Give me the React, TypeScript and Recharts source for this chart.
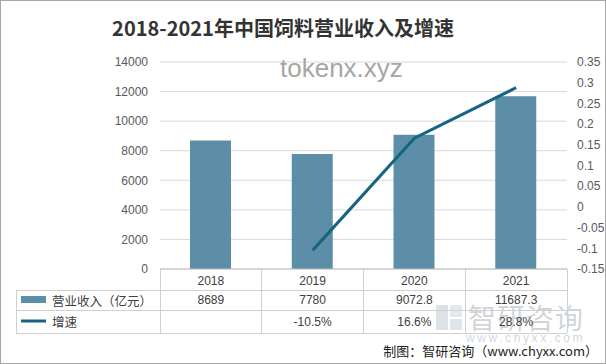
import React from 'react';
import { ComposedChart, Bar, Line, XAxis, YAxis, CartesianGrid } from 'recharts';

const categories = ['2018', '2019', '2020', '2021'];
const revenue = [8689, 7780, 9072.8, 11687.3];
const growth: (number | null)[] = [null, -0.105, 0.166, 0.288];
const leftTicks = [0, 2000, 4000, 6000, 8000, 10000, 12000, 14000];
const rightTicks = [-0.15, -0.1, -0.05, 0, 0.05, 0.1, 0.15, 0.2, 0.25, 0.3, 0.35];
const seriesNames = ['营业收入（亿元）', '增速'];

const data = categories.map((c, i) => ({ year: c, revenue: revenue[i], growth: growth[i] }));

const W = 606;
const H = 364;
const LEFT_W = 160;
const RIGHT_W = 39;
const TOP = 62;
const XAXIS_H = 95;
const BAND = (W - LEFT_W - RIGHT_W) / categories.length;
const TABLE_LEFT = 16;

const BAR_COLOR = '#5c8fa7';
const LINE_COLOR = '#176482';
const GRID = '#d9d9d9';
const TABLE_LINE = '#d0d0d0';
const TXT = '#404040';
const CJK = '"Noto Sans CJK SC", "Liberation Sans", sans-serif';
const NUM = '"Liberation Sans", "Noto Sans CJK SC", sans-serif';

const fmtGrowth = (v: number | null) => (v === null ? '' : (v * 100).toFixed(1) + '%');

const TableTick = (props: any) => {
  const { x, y, payload, index } = props;
  const half = BAND / 2;
  const r1 = y + 21;
  const r2 = y + 41;
  const r3 = y + 64;
  const line = (x1: number, y1: number, x2: number, y2: number, k: string) => (
    <line key={k} x1={x1} y1={y1} x2={x2} y2={y2} stroke={TABLE_LINE} strokeWidth={1} shapeRendering="crispEdges" />
  );
  return (
    <g>
      {line(x - half, y, x - half, r3, 'vl')}
      {index === categories.length - 1 && line(x + half, y, x + half, r3, 'vr')}
      {line(x - half, r1, x + half, r1, 'h1')}
      {line(x - half, r2, x + half, r2, 'h2')}
      {line(x - half, r3, x + half, r3, 'h3')}
      {index === 0 && (
        <g>
          {line(TABLE_LEFT, r1, x - half, r1, 'lh1')}
          {line(TABLE_LEFT, r2, x - half, r2, 'lh2')}
          {line(TABLE_LEFT, r3, x - half, r3, 'lh3')}
          {line(TABLE_LEFT, r1, TABLE_LEFT, r3, 'lv')}
          <rect x={TABLE_LEFT + 5} y={y + 27} width={25} height={7} fill={BAR_COLOR} />
          <line x1={TABLE_LEFT + 5} x2={TABLE_LEFT + 30} y1={y + 52} y2={y + 52} stroke={LINE_COLOR} strokeWidth={3} />
          <text x={TABLE_LEFT + 36} y={y + 31} dominantBaseline="central" fontSize={12.5} fill={TXT} fontFamily={CJK}>{seriesNames[0]}</text>
          <text x={TABLE_LEFT + 36} y={y + 52} dominantBaseline="central" fontSize={12.5} fill={TXT} fontFamily={CJK}>{seriesNames[1]}</text>
        </g>
      )}
      <text x={x} y={y + 12} textAnchor="middle" dominantBaseline="central" fontSize={12} fill={TXT} fontFamily={NUM}>{payload.value}</text>
      <text x={x} y={y + 31} textAnchor="middle" dominantBaseline="central" fontSize={12} fill={TXT} fontFamily={NUM}>{String(revenue[index])}</text>
      <text x={x} y={y + 53} textAnchor="middle" dominantBaseline="central" fontSize={12} fill={TXT} fontFamily={NUM}>{fmtGrowth(growth[index])}</text>
    </g>
  );
};

export default function App() {
  return (
    <div style={{ position: 'absolute', left: 0, top: 0, width: W, height: H, background: '#fff', overflow: 'hidden' }}>
      <div style={{ position: 'absolute', left: 468, top: 299, fontFamily: CJK, fontSize: 28, color: 'rgba(150,160,172,0.45)', lineHeight: '36px', letterSpacing: 1 }}>
        智研咨询
      </div>
      <div style={{ position: 'absolute', left: 466, top: 330, fontFamily: NUM, fontSize: 12, color: 'rgba(150,160,172,0.45)', lineHeight: '16px', letterSpacing: 2.6, whiteSpace: 'nowrap' }}>
        www.chyxx.com
      </div>
      <div style={{ position: 'absolute', left: 436, top: 305, width: 26, height: 25, opacity: 0.4 }}>
        <div style={{ position: 'absolute', left: 0, top: 0, width: 12, height: 25, background: '#a9b7c6' }} />
        <div style={{ position: 'absolute', left: 14, top: 0, width: 12, height: 12, background: '#c0cad5' }} />
        <div style={{ position: 'absolute', left: 14, top: 14, width: 12, height: 11, background: '#b2bfcc' }} />
      </div>
      <div style={{ position: 'absolute', left: 0, top: 0 }}>
        <ComposedChart width={W} height={H} data={data} margin={{ top: TOP, right: 0, bottom: 0, left: 0 }}>
          <CartesianGrid yAxisId="left" vertical={false} stroke={GRID} />
          <XAxis
            dataKey="year"
            height={XAXIS_H}
            tickLine={false}
            tickSize={0}
            tickMargin={0}
            axisLine={{ stroke: '#bfbfbf' }}
            tick={<TableTick />}
            interval={0}
          />
          <YAxis
            yAxisId="left"
            orientation="left"
            width={LEFT_W}
            domain={[0, 14000]}
            ticks={leftTicks}
            axisLine={false}
            tickLine={false}
            tickMargin={6}
            tick={{ fontSize: 12, fill: '#595959', fontFamily: NUM }}
            interval={0}
          />
          <YAxis
            yAxisId="right"
            orientation="right"
            width={RIGHT_W}
            domain={[-0.15, 0.35]}
            ticks={rightTicks}
            axisLine={false}
            tickLine={false}
            tickMargin={4}
            tick={{ fontSize: 12, fill: '#595959', fontFamily: NUM, textAnchor: 'start' }}
            tickFormatter={(v: number) => String(v)}
            interval={0}
          />
          <Bar yAxisId="left" dataKey="revenue" fill={BAR_COLOR} barSize={41} isAnimationActive={false} />
          <Line
            yAxisId="right"
            dataKey="growth"
            stroke={LINE_COLOR}
            strokeWidth={3}
            dot={false}
            activeDot={false}
            type="linear"
            connectNulls={false}
            isAnimationActive={false}
          />
        </ComposedChart>
      </div>
      <div style={{ position: 'absolute', left: 0, top: 14, width: 566, textAlign: 'center', fontFamily: CJK, fontWeight: 700, fontSize: 20, color: '#333', lineHeight: '28px' }}>
        2018-2021年中国饲料营业收入及增速
      </div>
      <div style={{ position: 'absolute', left: 280, top: 52, fontFamily: NUM, fontSize: 26, color: '#a6a6a6', lineHeight: '32px' }}>
        tokenx.xyz
      </div>
      <div style={{ position: 'absolute', right: 8, top: 340, fontFamily: CJK, fontSize: 13, color: '#222', lineHeight: '22px', whiteSpace: 'nowrap' }}>
        制图：智研咨询（www.chyxx.com）
      </div>
      <div style={{ position: 'absolute', left: 0, top: 0, width: W - 2, height: H - 2, border: '1px solid #a6a6a6', pointerEvents: 'none' }} />
    </div>
  );
}
